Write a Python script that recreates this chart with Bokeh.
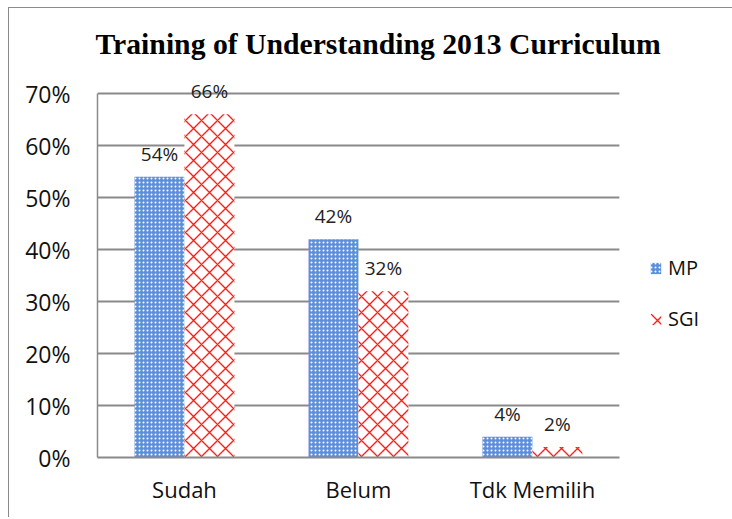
from bokeh.plotting import figure
from bokeh.models import (ColumnDataSource, Range1d, LabelSet, Legend, LegendItem,
                          PrintfTickFormatter, FixedTicker)
from bokeh.transform import dodge
from bokeh.core.properties import value
from bokeh.embed import file_html
from bokeh.resources import INLINE

categories = ["Sudah", "Belum", "Tdk Memilih"]
mp_values = [54, 42, 4]
sgi_values = [66, 32, 2]
mp_labels = ["54%", "42%", "4%"]
sgi_labels = ["66%", "32%", "2%"]
y_ticks = [0, 10, 20, 30, 40, 50, 60, 70]
y_max = 70
title_text = "Training of Understanding 2013 Curriculum"

n = len(categories)
xpos = [i + 0.5 for i in range(n)]

src = ColumnDataSource(dict(x=xpos, cat=categories, mp=mp_values, sgi=sgi_values,
                            mpl=mp_labels, sgil=sgi_labels))

p = figure(x_range=Range1d(0, 3.656), y_range=Range1d(0, 74.82),
           width=724, height=510, output_backend="svg", toolbar_location=None,
           min_border_left=88, min_border_right=0, min_border_top=60,
           min_border_bottom=61, title=title_text)
p.styles = {"border-left": "1px solid #8a8a8a", "border-top": "1px solid #8a8a8a",
            "margin-left": "8px", "margin-top": "7px", "box-sizing": "border-box"}

p.title.align = "left"
p.title.offset = -2
p.title.text_font = "Liberation Serif"
p.title.text_font_style = "bold"
p.title.text_font_size = "29.7px"
p.title.text_color = "black"
p.title.standoff = 18
p.outline_line_color = None
p.background_fill_color = "white"
p.border_fill_color = "white"

# horizontal grid lines, only across the category area
grid_src = ColumnDataSource(dict(y=y_ticks[1:], x0=[0] * (len(y_ticks) - 1),
                                 x1=[n] * (len(y_ticks) - 1)))
p.segment(x0="x0", x1="x1", y0="y", y1="y", source=grid_src,
          line_color="#8a8a8a", line_width=2)

bw = 0.287
mp_r = p.vbar(x=dodge("x", -bw / 2), top="mp", width=bw, source=src,
              fill_color="#5b8fdc", line_color=None,
              hatch_pattern="dot", hatch_color="white", hatch_scale=4, hatch_weight=1.2)
sgi_r = p.vbar(x=dodge("x", bw / 2), top="sgi", width=bw, source=src,
               fill_color="white", line_color=None,
               hatch_pattern="diagonal_cross", hatch_color="#ff1a1a", hatch_scale=16,
               hatch_weight=1.3)

for col, lab, off in (("mp", "mpl", -bw / 2), ("sgi", "sgil", bw / 2)):
    p.add_layout(LabelSet(x=dodge("x", off), y=col, text=lab, source=src,
                          text_align="center", text_baseline="bottom", y_offset=10,
                          text_font=value("Open Sans"), text_font_size="19px",
                          text_color="#222222"))

p.yaxis.ticker = FixedTicker(ticks=y_ticks)
p.yaxis.bounds = (0, y_max)
p.yaxis.formatter = PrintfTickFormatter(format="%d%%")
p.yaxis.major_label_text_font = "Open Sans"
p.yaxis.major_label_text_font_size = "23px"
p.yaxis.major_label_text_color = "#111111"
p.yaxis.major_tick_line_color = None
p.yaxis.minor_tick_line_color = None
p.yaxis.major_label_standoff = 21
p.yaxis.axis_line_color = "#8a8a8a"
p.yaxis.axis_line_width = 1.5

p.xaxis.ticker = FixedTicker(ticks=xpos)
p.xaxis.major_label_overrides = {x: c for x, c in zip(xpos, categories)}
p.xaxis.bounds = (0, n)
p.xaxis.major_label_text_font = "Open Sans"
p.xaxis.major_label_text_font_size = "22px"
p.xaxis.major_label_text_color = "#111111"
p.xaxis.major_tick_line_color = None
p.xaxis.minor_tick_line_color = None
p.xaxis.major_label_standoff = 10
p.xaxis.axis_line_color = "#8a8a8a"
p.xaxis.axis_line_width = 2

p.xgrid.grid_line_color = None
p.ygrid.grid_line_color = None

legend = Legend(items=[LegendItem(label="MP", renderers=[mp_r]),
                       LegendItem(label="SGI", renderers=[sgi_r])],
                location=(552, 125), orientation="vertical",
                border_line_color=None, background_fill_alpha=0,
                padding=0, margin=0, spacing=24,
                glyph_width=13, glyph_height=14, label_height=20,
                label_text_font="Open Sans", label_text_font_size="20px",
                label_text_color="#111111", label_standoff=6)
p.add_layout(legend, "center")

open("out.html", "w").write(file_html(p, INLINE))
